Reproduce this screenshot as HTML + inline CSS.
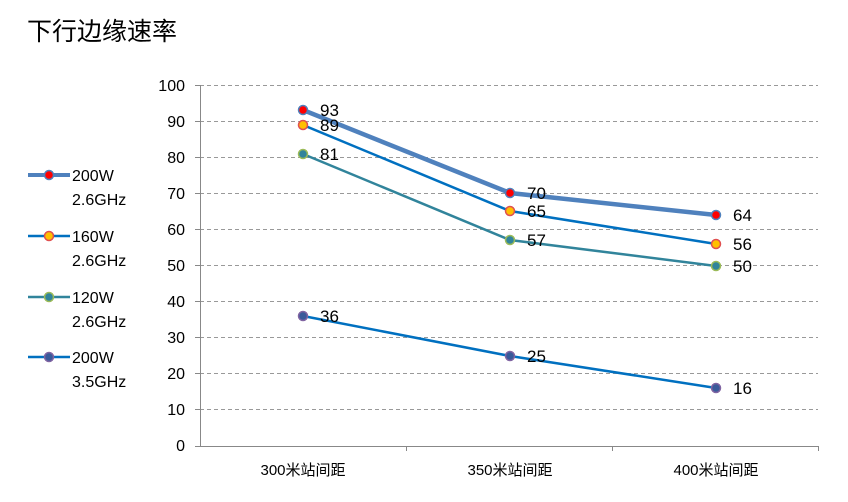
<!DOCTYPE html>
<html><head><meta charset="utf-8"><style>body{margin:0;background:#fff}svg{display:block}text{font-family:"Liberation Sans","Noto Sans CJK SC",sans-serif}</style></head><body>
<svg width="848" height="502" viewBox="0 0 848 502">
<text x="27" y="40" font-size="25" fill="#000">下行边缘速率</text>
<g stroke="#999" stroke-dasharray="4,3" stroke-width="1">
<line x1="200" x2="818" y1="85.5" y2="85.5"/><line x1="200" x2="818" y1="121.5" y2="121.5"/><line x1="200" x2="818" y1="157.5" y2="157.5"/><line x1="200" x2="818" y1="193.5" y2="193.5"/><line x1="200" x2="818" y1="229.5" y2="229.5"/><line x1="200" x2="818" y1="265.5" y2="265.5"/><line x1="200" x2="818" y1="301.5" y2="301.5"/><line x1="200" x2="818" y1="337.5" y2="337.5"/><line x1="200" x2="818" y1="373.5" y2="373.5"/><line x1="200" x2="818" y1="409.5" y2="409.5"/>
</g>
<g stroke="#888" stroke-width="1">
<line x1="200.5" x2="200.5" y1="85" y2="446"/><line x1="200" x2="818" y1="446.5" y2="446.5"/>
<line x1="195" x2="200" y1="85.5" y2="85.5"/><line x1="195" x2="200" y1="121.5" y2="121.5"/><line x1="195" x2="200" y1="157.5" y2="157.5"/><line x1="195" x2="200" y1="193.5" y2="193.5"/><line x1="195" x2="200" y1="229.5" y2="229.5"/><line x1="195" x2="200" y1="265.5" y2="265.5"/><line x1="195" x2="200" y1="301.5" y2="301.5"/><line x1="195" x2="200" y1="337.5" y2="337.5"/><line x1="195" x2="200" y1="373.5" y2="373.5"/><line x1="195" x2="200" y1="409.5" y2="409.5"/><line x1="195" x2="200" y1="446.5" y2="446.5"/>
<line x1="406.5" x2="406.5" y1="446" y2="451"/><line x1="612.5" x2="612.5" y1="446" y2="451"/><line x1="818.5" x2="818.5" y1="446" y2="451"/>
</g>
<g font-size="16" fill="#000" text-anchor="end">
<text x="185" y="91">100</text><text x="185" y="127">90</text><text x="185" y="163">80</text><text x="185" y="199">70</text><text x="185" y="235">60</text><text x="185" y="271">50</text><text x="185" y="307">40</text><text x="185" y="343">30</text><text x="185" y="379">20</text><text x="185" y="415">10</text><text x="185" y="451">0</text>
</g>
<g font-size="15" fill="#000" text-anchor="middle">
<text x="303" y="475">300米站间距</text><text x="510" y="475">350米站间距</text><text x="716" y="475">400米站间距</text>
</g>
<polyline points="303,110 510,193 716,215" fill="none" stroke="#4f81bd" stroke-width="4.5"/>
<polyline points="303,125 510,211 716,244" fill="none" stroke="#0070c0" stroke-width="2.5"/>
<polyline points="303,154 510,240 716,266" fill="none" stroke="#31849b" stroke-width="2.5"/>
<polyline points="303,316 510,356 716,388" fill="none" stroke="#0070c0" stroke-width="2.5"/>
<g stroke-width="1.5">
<circle cx="303" cy="110" r="4.5" fill="#ff0000" stroke="#4f81bd"/><circle cx="510" cy="193" r="4.5" fill="#ff0000" stroke="#4f81bd"/><circle cx="716" cy="215" r="4.5" fill="#ff0000" stroke="#4f81bd"/>
<circle cx="303" cy="125" r="4.5" fill="#ffc000" stroke="#e05050"/><circle cx="510" cy="211" r="4.5" fill="#ffc000" stroke="#e05050"/><circle cx="716" cy="244" r="4.5" fill="#ffc000" stroke="#e05050"/>
<circle cx="303" cy="154" r="4.5" fill="#31849b" stroke="#9bbb59"/><circle cx="510" cy="240" r="4.5" fill="#31849b" stroke="#9bbb59"/><circle cx="716" cy="266" r="4.5" fill="#31849b" stroke="#9bbb59"/>
<circle cx="303" cy="316" r="4.5" fill="#3a5a9a" stroke="#8064a2"/><circle cx="510" cy="356" r="4.5" fill="#3a5a9a" stroke="#8064a2"/><circle cx="716" cy="388" r="4.5" fill="#3a5a9a" stroke="#8064a2"/>
</g>
<g font-size="17" fill="#000">
<text x="320" y="116">93</text><text x="320" y="131">89</text><text x="320" y="160">81</text><text x="320" y="322">36</text>
<text x="527" y="199">70</text><text x="527" y="217">65</text><text x="527" y="246">57</text><text x="527" y="362">25</text>
<text x="733" y="221">64</text><text x="733" y="250">56</text><text x="733" y="272">50</text><text x="733" y="394">16</text>
</g>
<g>
<line x1="28" x2="70" y1="175" y2="175" stroke="#4f81bd" stroke-width="4"/><circle cx="49" cy="175" r="4.5" fill="#ff0000" stroke="#4f81bd" stroke-width="1.5"/>
<line x1="28" x2="70" y1="236" y2="236" stroke="#0070c0" stroke-width="2.5"/><circle cx="49" cy="236" r="4.5" fill="#ffc000" stroke="#e05050" stroke-width="1.5"/>
<line x1="28" x2="70" y1="297" y2="297" stroke="#31849b" stroke-width="2.5"/><circle cx="49" cy="297" r="4.5" fill="#31849b" stroke="#9bbb59" stroke-width="1.5"/>
<line x1="28" x2="70" y1="357" y2="357" stroke="#0070c0" stroke-width="2.5"/><circle cx="49" cy="357" r="4.5" fill="#3a5a9a" stroke="#8064a2" stroke-width="1.5"/>
</g>
<g font-size="16" fill="#000">
<text x="72" y="181">200W</text><text x="72" y="205">2.6GHz</text>
<text x="72" y="242">160W</text><text x="72" y="266">2.6GHz</text>
<text x="72" y="303">120W</text><text x="72" y="327">2.6GHz</text>
<text x="72" y="363">200W</text><text x="72" y="387">3.5GHz</text>
</g>
</svg>
</body></html>
